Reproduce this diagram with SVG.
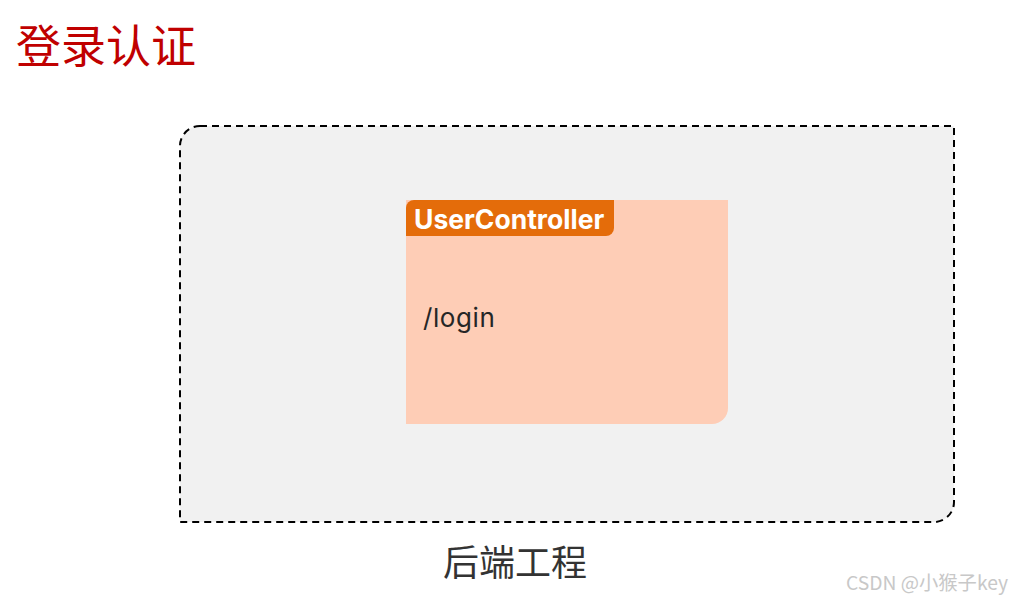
<svg xmlns="http://www.w3.org/2000/svg" width="1012" height="602" viewBox="0 0 1012 602">
<style>
.cjk{font-family:"Noto Sans CJK SC","Noto Sans",sans-serif}
.lat{font-family:Inter,"Noto Sans",sans-serif}
</style>
<rect width="1012" height="602" fill="#ffffff"/>
<g id="title">
<text x="16" y="63" class="cjk" font-size="45" fill="#c00000">登录认证</text>
</g>
<g id="backend">
<path d="M200,126 H954 V502 A20,20 0 0 1 934,522 H180 V146 A20,20 0 0 1 200,126 Z" fill="#f1f1f1" stroke="#000" stroke-width="2" stroke-dasharray="7,5"/>
<text x="515" y="576" class="cjk" font-size="36" fill="#333" text-anchor="middle">后端工程</text>
</g>
<g id="usercontroller">
<path d="M406,200 H728 V408 A16,16 0 0 1 712,424 H406 Z" fill="#fecdb6"/>
<path d="M414,200 H614 V228 A8,8 0 0 1 606,236 H406 V208 A8,8 0 0 1 414,200 Z" fill="#e46c0a"/>
<text x="414" y="229" class="lat" font-size="26.5" font-weight="bold" fill="#ffffff">UserController</text>
<text x="423" y="327" class="lat" font-size="26" letter-spacing="0.6" fill="#262626">/login</text>
</g>
<g id="connectors"></g>
<g id="watermark">
<text x="846" y="590" class="cjk" font-size="19.3" fill="#c8c8c8">CSDN @小猴子key</text>
</g>
</svg>
